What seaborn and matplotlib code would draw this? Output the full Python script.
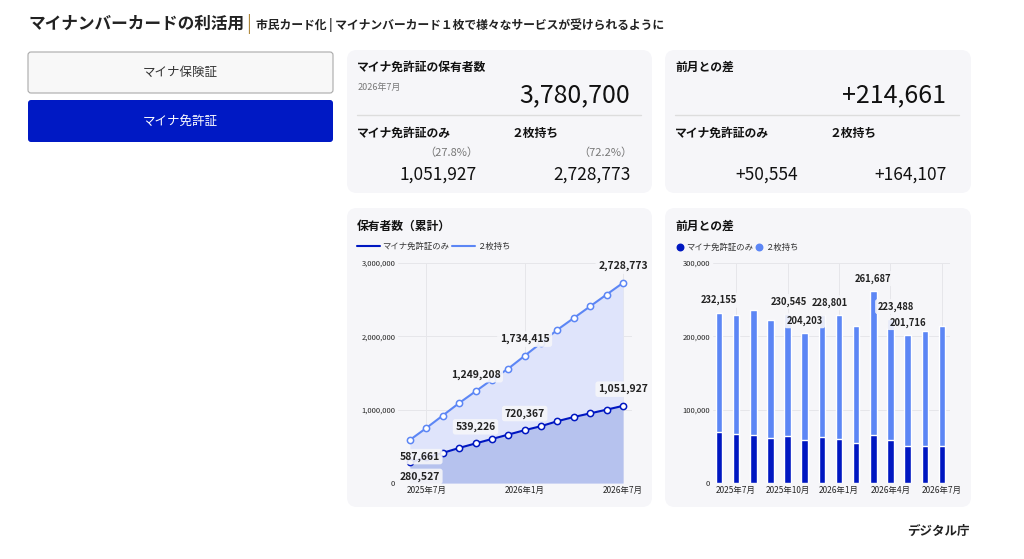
import matplotlib
matplotlib.use("Agg")
import matplotlib.pyplot as plt
from matplotlib.patches import FancyBboxPatch
import seaborn as sns
import pandas as pd
import numpy as np

sns.set_theme(style="white")
plt.rcParams['font.family'] = ['Noto Sans CJK JP', 'DejaVu Sans']

# ---- data ----
months = ["2025年6月", "2025年7月", "2025年8月", "2025年9月", "2025年10月", "2025年11月", "2025年12月",
          "2026年1月", "2026年2月", "2026年3月", "2026年4月", "2026年5月", "2026年6月", "2026年7月"]
cum_only = [280527, 350000, 410000, 478000, 539226, 600000, 660000, 720367, 775000, 843000, 900000, 950000, 1000000, 1051927]
cum_both = [587661, 750000, 920000, 1090000, 1249208, 1410000, 1560000, 1734415, 1910000, 2090000, 2250000, 2410000, 2570000, 2728773]
diff_total = [232155, 229000, 236000, 222000, 230545, 204203, 228801, 229000, 214000, 261687, 223488, 201716, 207000, 214661]
diff_only = [69000, 67000, 66000, 62000, 64000, 58000, 63000, 60000, 55000, 65000, 59000, 51000, 50000, 50554]
line_label_idx = [0, 4, 7, 13]
bar_label_idx = [0, 4, 5, 6, 9, 10, 11]
line_ticks = [1, 7, 13]
bar_ticks = [1, 4, 7, 10, 13]
series_names = ["マイナ免許証のみ", "２枚持ち"]

DARK = "#0017c1"
LIGHT = "#5c86f5"
CARD = "#f6f6f9"

W, H = 1024, 559
fig = plt.figure(figsize=(W / 100, H / 100), dpi=100)
bg = fig.add_axes([0, 0, 1, 1])
bg.set_xlim(0, W); bg.set_ylim(H, 0); bg.axis("off")

def card(x0, y0, x1, y1, fc=CARD, ec="none", lw=0, r=10):
    bg.add_patch(FancyBboxPatch((x0 + r, y0 + r), x1 - x0 - 2 * r, y1 - y0 - 2 * r,
                                boxstyle=f"round,pad={r}", fc=fc, ec=ec, lw=lw))

# title
bg.text(28, 24, "マイナンバーカードの利活用", fontsize=12, fontweight="bold", color="#222", va="center")
bg.text(246, 24, "|", fontsize=13, color="#b08a40", va="center")
bg.text(256, 25, "市民カード化 | マイナンバーカード１枚で様々なサービスが受けられるように",
        fontsize=8.5, fontweight="bold", color="#222", va="center")

# buttons
card(28, 52, 333, 93, fc="#f8f8f8", ec="#aaaaaa", lw=0.8, r=3)
bg.text(180, 72, "マイナ保険証", fontsize=9, color="#333", ha="center", va="center")
card(28, 100, 333, 142, fc="#0019c4", r=3)
bg.text(180, 121, "マイナ免許証", fontsize=9, color="white", ha="center", va="center")

# cards
card(347, 50, 652, 193); card(665, 50, 971, 193)
card(347, 208, 652, 507); card(665, 208, 971, 507)

# card 1
bg.text(357, 67, "マイナ免許証の保有者数", fontsize=8.5, fontweight="bold", color="#111", va="center")
bg.text(358, 87, "2026年7月", fontsize=6.5, color="#777", va="center")
bg.text(630, 95, "3,780,700", fontsize=18, color="#111", ha="right", va="center")
bg.plot([357, 641], [115, 115], color="#dddddd", lw=1)
bg.text(357, 133, "マイナ免許証のみ", fontsize=8.5, fontweight="bold", color="#111", va="center")
bg.text(511, 133, "２枚持ち", fontsize=8.5, fontweight="bold", color="#111", va="center")
bg.text(478, 153, "（27.8%）", fontsize=8, color="#777", ha="right", va="center")
bg.text(632, 153, "（72.2%）", fontsize=8, color="#777", ha="right", va="center")
bg.text(477, 175, "1,051,927", fontsize=12.5, color="#111", ha="right", va="center")
bg.text(631, 175, "2,728,773", fontsize=12.5, color="#111", ha="right", va="center")

# card 2
bg.text(675, 67, "前月との差", fontsize=8.5, fontweight="bold", color="#111", va="center")
bg.text(946, 95, "+214,661", fontsize=18, color="#111", ha="right", va="center")
bg.plot([675, 959], [115, 115], color="#dddddd", lw=1)
bg.text(675, 133, "マイナ免許証のみ", fontsize=8.5, fontweight="bold", color="#111", va="center")
bg.text(829, 133, "２枚持ち", fontsize=8.5, fontweight="bold", color="#111", va="center")
bg.text(798, 175, "+50,554", fontsize=12.5, color="#111", ha="right", va="center")
bg.text(947, 175, "+164,107", fontsize=12.5, color="#111", ha="right", va="center")

# card titles & legends
bg.text(357, 226, "保有者数（累計）", fontsize=8.5, fontweight="bold", color="#111", va="center")
bg.plot([357, 380], [246, 246], color=DARK, lw=1.5)
bg.text(382, 246, series_names[0], fontsize=6, color="#333", va="center")
bg.plot([452, 475], [246, 246], color=LIGHT, lw=1.5)
bg.text(477, 246, series_names[1], fontsize=6, color="#333", va="center")

bg.text(675, 226, "前月との差", fontsize=8.5, fontweight="bold", color="#111", va="center")
bg.scatter([680], [247], s=22, color=DARK)
bg.text(686, 247, series_names[0], fontsize=6, color="#333", va="center")
bg.scatter([759], [247], s=22, color=LIGHT)
bg.text(765, 247, series_names[1], fontsize=6, color="#333", va="center")

bg.text(970, 531, "デジタル庁", fontsize=9, fontweight="bold", color="#222", ha="right", va="center")

def ax_at(x0, y0, x1, y1):
    return fig.add_axes([x0 / W, 1 - y1 / H, (x1 - x0) / W, (y1 - y0) / H])

lbl_box = dict(boxstyle="round,pad=0.25", fc=CARD, ec="none", alpha=0.9)

# ---- line chart ----
ax = ax_at(398, 263, 632, 483)
ax.set_facecolor("none")
idx = np.arange(len(months))
df = pd.DataFrame({"i": np.concatenate([idx, idx]),
                   "v": cum_only + cum_both,
                   "s": [series_names[0]] * len(idx) + [series_names[1]] * len(idx)})
ax.fill_between(idx, cum_both, color="#dfe4fb", lw=0, zorder=1)
ax.fill_between(idx, cum_only, color="#b6c2ee", lw=0, zorder=1)
sns.lineplot(data=df, x="i", y="v", hue="s", palette=[DARK, LIGHT], marker="o",
             markersize=4.5, lw=1.5, legend=False, ax=ax, zorder=3)
for ln in ax.lines:
    c = ln.get_color()
    ln.set_markeredgecolor(c); ln.set_markerfacecolor("white"); ln.set_markeredgewidth(1.1)
for k in line_label_idx:
    if k == 0:
        ax.text(0.6, 360000, f"{cum_both[k]:,}", ha="center", va="center", fontsize=7.5,
                fontweight="bold", color="#222", bbox=lbl_box, zorder=5)
        ax.text(0.6, 90000, f"{cum_only[k]:,}", ha="center", va="center", fontsize=7.5,
                fontweight="bold", color="#222", bbox=lbl_box, zorder=5)
        continue
    for vals in (cum_both, cum_only):
        ax.annotate(f"{vals[k]:,}", (k, vals[k]), xytext=(0, 12),
                    textcoords="offset points", ha="center", va="center", fontsize=7.5,
                    fontweight="bold", color="#222", bbox=lbl_box, zorder=5)
ax.set_xlim(-0.73, 13.55); ax.set_ylim(0, 3000000)
ax.set_yticks([0, 1000000, 2000000, 3000000])
ax.set_yticklabels(["0", "1,000,000", "2,000,000", "3,000,000"], fontsize=5.5)
ax.set_xticks(line_ticks)
ax.set_xticklabels([months[i] for i in line_ticks], fontsize=6)
ax.grid(True, color="#e6e6ea", lw=0.7); ax.set_axisbelow(True)
ax.set_xlabel(""); ax.set_ylabel("")
ax.tick_params(length=0, pad=2)
for s in ax.spines.values():
    s.set_visible(False)

# ---- bar chart ----
bx = ax_at(713, 263, 950, 483)
bx.set_facecolor("none")
bdf = pd.DataFrame({"m": months, "total": diff_total, "only": diff_only})
sns.barplot(data=bdf, x="m", y="total", color=LIGHT, saturation=1, width=0.38, ax=bx, zorder=2)
sns.barplot(data=bdf, x="m", y="only", color=DARK, saturation=1, width=0.38, ax=bx, zorder=3)
label_dx = {4: 0.1, 6: 0.45, 10: 0.3}
for k in bar_label_idx:
    bx.annotate(f"{diff_total[k]:,}", (k + label_dx.get(k, 0), diff_total[k]), xytext=(0, 9),
                textcoords="offset points", ha="center", va="center", fontsize=6.8,
                fontweight="bold", color="#222", bbox=lbl_box, zorder=5)
bx.set_xlim(-0.35, 13.47); bx.set_ylim(0, 300000)
bx.set_yticks([0, 100000, 200000, 300000])
bx.set_yticklabels(["0", "100,000", "200,000", "300,000"], fontsize=5.5)
bx.set_xticks(bar_ticks)
bx.set_xticklabels([months[i] for i in bar_ticks], fontsize=6)
bx.grid(True, color="#e6e6ea", lw=0.7); bx.set_axisbelow(True)
bx.set_xlabel(""); bx.set_ylabel("")
bx.tick_params(length=0, pad=2)
for s in bx.spines.values():
    s.set_visible(False)

fig.savefig("out.png", dpi=100, facecolor="white")
